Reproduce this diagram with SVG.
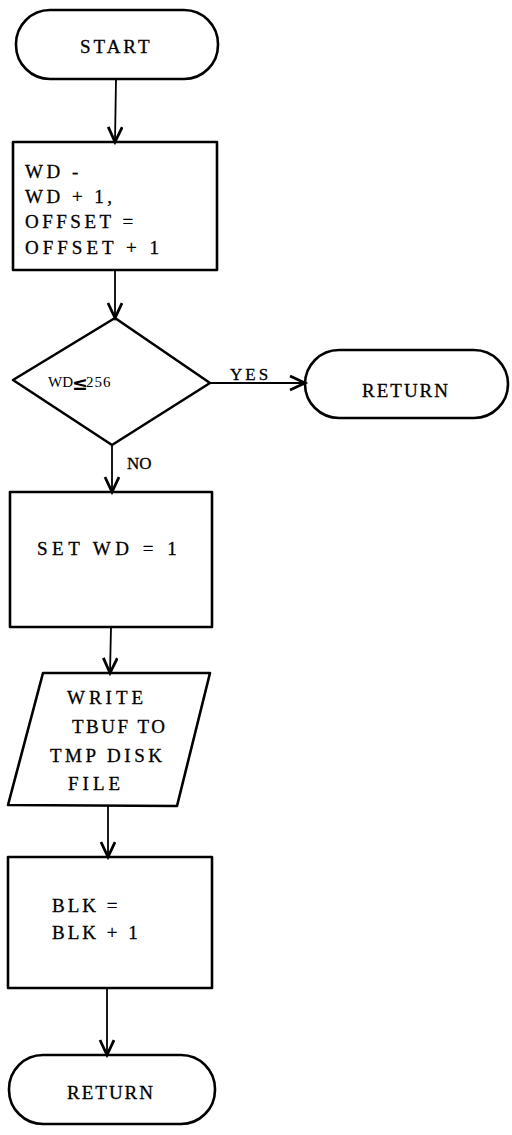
<svg xmlns="http://www.w3.org/2000/svg" width="512" height="1135" viewBox="0 0 512 1135">
  <defs>
    <style>
      .shape { fill: none; stroke: #000; stroke-width: 2.6; stroke-linejoin: round; }
      .edge { fill: none; stroke: #000; stroke-width: 1.8; }
      .txt { font-family: "Liberation Serif", "DejaVu Serif", serif; font-size: 19px; letter-spacing: 3.5px; fill: #000; stroke: #000; stroke-width: 0.3; }
    </style>
    <marker id="vhead" markerUnits="userSpaceOnUse" markerWidth="20" markerHeight="20" refX="16" refY="8" orient="auto">
      <path d="M1,1 L16,8 L1,15" fill="none" stroke="#000" stroke-width="2.8" stroke-linejoin="miter"/>
    </marker>
  </defs>
  <rect width="512" height="1135" fill="#fff"/>

  <!-- connectors -->
  <g id="connectors">
    <path class="edge" d="M116,79 L115,142" marker-end="url(#vhead)"/>
    <path class="edge" d="M115,270 L115,318" marker-end="url(#vhead)"/>
    <path class="edge" d="M210,383 L305,383" marker-end="url(#vhead)"/>
    <text class="txt" x="230" y="380" style="font-size:17px;letter-spacing:3px">YES</text>
    <path class="edge" d="M112,445 L112,492" marker-end="url(#vhead)"/>
    <text class="txt" x="127" y="469" style="font-size:17px;letter-spacing:0">NO</text>
    <path class="edge" d="M111,627 L110,673" marker-end="url(#vhead)"/>
    <path class="edge" d="M108,806 L108,857" marker-end="url(#vhead)"/>
    <path class="edge" d="M107,988 L107,1055" marker-end="url(#vhead)"/>
  </g>

  <!-- START terminal -->
  <g id="start">
    <rect class="shape" x="16" y="10" width="202" height="69" rx="34" ry="34"/>
    <text class="txt" x="80" y="53" style="letter-spacing:3px">START</text>
  </g>

  <!-- increment WD and OFFSET -->
  <g id="increment">
    <rect class="shape" x="13" y="142" width="204" height="128"/>
    <text class="txt" x="25" y="178">WD  -</text>
    <text class="txt" x="25" y="203">WD + 1,</text>
    <text class="txt" x="25" y="228">OFFSET =</text>
    <text class="txt" x="25" y="254" style="letter-spacing:4px">OFFSET + 1</text>
  </g>

  <!-- decision WD <= 256 -->
  <g id="decision">
    <polygon class="shape" points="115,318 210,383 112,445 13,380"/>
    <text x="48" y="387" font-family="Liberation Serif, serif" font-size="15" fill="#000">WD</text>
    <text x="72" y="390" font-family="DejaVu Sans, sans-serif" font-size="19" font-weight="bold" fill="#000">≤</text>
    <text x="86" y="387" font-family="Liberation Serif, serif" font-size="15" letter-spacing="1" fill="#000">256</text>
  </g>

  <!-- RETURN (yes branch) -->
  <g id="return-yes">
    <rect class="shape" x="305" y="350" width="203" height="68" rx="34" ry="34"/>
    <text class="txt" x="362" y="397" style="letter-spacing:2px">RETURN</text>
  </g>

  <!-- reset WD -->
  <g id="reset">
    <rect class="shape" x="10" y="492" width="202" height="135"/>
    <text class="txt" x="37" y="555" style="letter-spacing:4.5px">SET WD = 1</text>
  </g>

  <!-- write buffer -->
  <g id="write">
    <polygon class="shape" points="43,673 210,673 177,806 8,805"/>
    <text class="txt" x="67" y="704" style="letter-spacing:4px">WRITE</text>
    <text class="txt" x="72" y="733" style="letter-spacing:2.5px">TBUF TO</text>
    <text class="txt" x="50" y="762">TMP DISK</text>
    <text class="txt" x="68" y="790" style="letter-spacing:4px">FILE</text>
  </g>

  <!-- increment BLK -->
  <g id="block">
    <rect class="shape" x="8" y="857" width="204" height="131"/>
    <text class="txt" x="52" y="912" style="letter-spacing:3px">BLK =</text>
    <text class="txt" x="52" y="939" style="letter-spacing:3px">BLK + 1</text>
  </g>

  <!-- RETURN (end) -->
  <g id="return-end">
    <rect class="shape" x="9" y="1055" width="206" height="69" rx="34" ry="34"/>
    <text class="txt" x="67" y="1099" style="letter-spacing:2px">RETURN</text>
  </g>
</svg>
